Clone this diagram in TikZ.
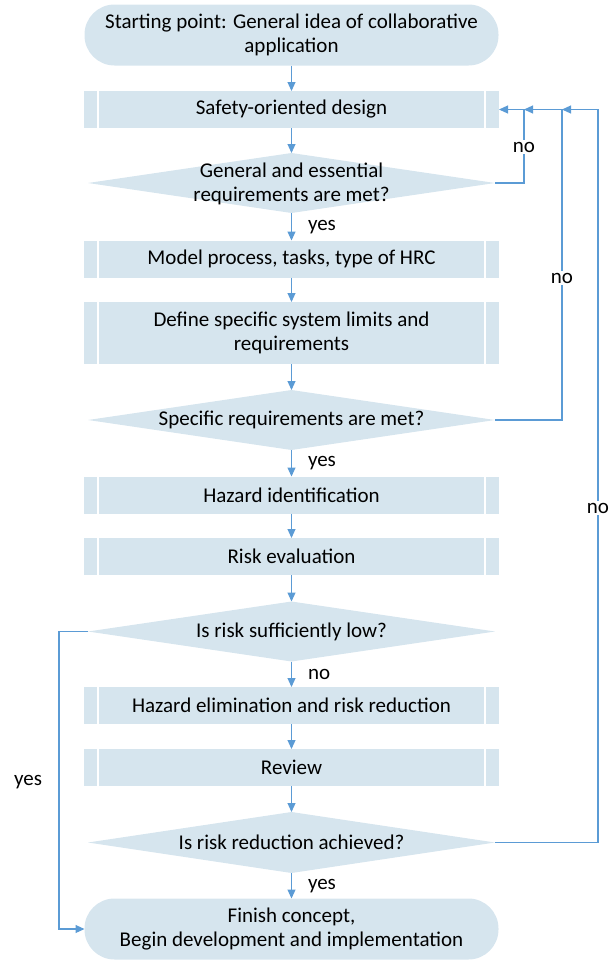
\documentclass[tikz,border=0pt]{standalone}
\usepackage{fontspec}
\setmainfont{Carlito}
\usetikzlibrary{shapes.geometric,arrows.meta}
\definecolor{boxfill}{RGB}{214,229,238}
\definecolor{linec}{RGB}{91,155,213}
\begin{document}
\begin{tikzpicture}[x=1pt,y=-1pt,
  every node/.style={font=\fontsize{21}{24.5}\selectfont,outer sep=0pt},
  term/.style={rectangle,rounded corners=30pt,fill=boxfill,minimum width=414pt,minimum height=61pt,inner sep=0pt,align=center},
  proc/.style={rectangle,fill=boxfill,minimum width=415pt,inner sep=0pt,align=center,
    path picture={\draw[white,line width=1.5pt]
      ([xshift=14pt]path picture bounding box.north west) -- ([xshift=14pt]path picture bounding box.south west)
      ([xshift=-14pt]path picture bounding box.north east) -- ([xshift=-14pt]path picture bounding box.south east);}},
  dia/.style={diamond,fill=boxfill,minimum width=407pt,minimum height=60pt,inner sep=0pt},
  txt/.style={align=center,inner sep=0pt},
  flow/.style={draw=linec,line width=1.1pt,-{Triangle[length=9pt,width=8pt]}},
  lbl/.style={inner sep=1.5pt}
]
\useasboundingbox (0,0) rectangle (613,961);

\node[term] (start) at (291.5,35) {Starting point: General idea of collaborative\\application};
\node[proc,minimum height=37pt] (safety) at (291.5,109.5) {Safety-oriented design};
\node[dia] (d1) at (291.5,183) {};
\node[txt] (t1) at (291.5,184) {General and essential\\requirements are met?};
\node[proc,minimum height=37pt] (model) at (291.5,259) {Model process, tasks, type of HRC};
\node[proc,minimum height=62pt] (define) at (291.5,333) {Define specific system limits and\\requirements};
\node[dia] (d2) at (291.5,420) {};
\node[txt] (t2) at (291.5,420) {Specific requirements are met?};
\node[proc,minimum height=37pt] (hazid) at (291.5,495) {Hazard identification};
\node[proc,minimum height=37pt] (risk) at (291.5,556.5) {Risk evaluation};
\node[dia] (d3) at (291.5,631.5) {};
\node[txt] (t3) at (291.5,631.5) {Is risk sufficiently low?};
\node[proc,minimum height=37pt] (elim) at (291.5,705.5) {Hazard elimination and risk reduction};
\node[proc,minimum height=37pt] (review) at (291.5,767.5) {Review};
\node[dia,minimum height=61pt] (d4) at (291.5,842.5) {};
\node[txt] (t4) at (291.5,842.5) {Is risk reduction achieved?};
\node[term] (finish) at (291.5,929) {Finish concept,\\Begin development and implementation};

\coordinate (r1) at (524,0);
\coordinate (r2) at (562,0);
\coordinate (r3) at (598,0);
\coordinate (l1) at (59,0);

\draw[flow] (start) -- (safety);
\draw[flow] (safety) -- (d1);
\draw[flow] (d1) -- (model) node[midway,right=15pt,lbl] (y1) {yes};
\draw[flow] (model) -- (define);
\draw[flow] (define) -- (d2);
\draw[flow] (d2) -- (hazid) node[midway,right=15pt,lbl] (y2) {yes};
\draw[flow] (hazid) -- (risk);
\draw[flow] (risk) -- (d3);
\draw[flow] (d3) -- (elim) node[midway,right=15pt,lbl] (n4) {no};
\draw[flow] (elim) -- (review);
\draw[flow] (review) -- (d4);
\draw[flow] (d4) -- (finish) node[midway,right=15pt,lbl] (y4) {yes};

\draw[flow] (d1.east) -- (r1 |- d1.east) -- (r1 |- safety.east) -- (safety.east);
\draw[flow] (d2.east) -- (r2 |- d2.east) -- (r2 |- safety.east) -- (r1 |- safety.east);
\draw[flow] (d4.east) -- (r3 |- d4.east) -- (r3 |- safety.east) -- (r2 |- safety.east);
\draw[flow] (d3.west) -- (l1 |- d3.west) -- (l1 |- finish.west) -- (finish.west);

\node[lbl,fill=white] (n1) at (524,147) {no};
\node[lbl,fill=white] (n2) at (562,278) {no};
\node[lbl,fill=white] (n3) at (598,508) {no};
\node[lbl] (y3) at (28,782) {yes};
\end{tikzpicture}
\end{document}
